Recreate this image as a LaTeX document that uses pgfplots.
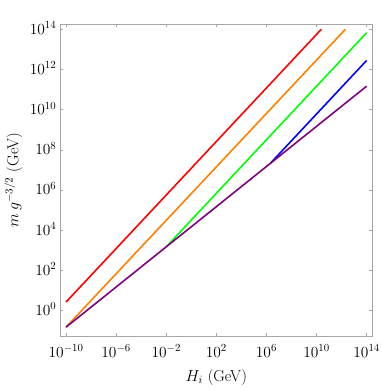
\RequirePackage{fix-cm}
\documentclass[border=0pt]{standalone}
\usepackage{pgfplots}
\pgfplotsset{compat=1.18}
\definecolor{mred}{rgb}{1,0,0}
\definecolor{morange}{rgb}{1,0.5,0}
\definecolor{mgreen}{rgb}{0,1,0}
\definecolor{mblue}{rgb}{0,0,1}
\definecolor{mpurple}{rgb}{0.5,0,0.5}
\begin{document}
\begin{tikzpicture}
\path[use as bounding box] (0bp,0bp) rectangle (382bp,390bp);
\begin{axis}[
  at={(60.3bp,54bp)}, anchor=south west,
  scale only axis, width=312bp, height=311.7bp,
  xmode=log, ymode=log,
  xmin=3.47e-11, xmax=2.82e14,
  ymin=0.0537, ymax=1.78e14,
  xtick={1e-10,1e-6,1e-2,1e2,1e6,1e10,1e14},
  ytick={1,1e2,1e4,1e6,1e8,1e10,1e12,1e14},
  minor xtick={}, minor ytick={},
  tick align=inside, major tick length=3bp,
  axis line style={gray!70, line width=0.6pt},
  every tick/.style={gray!70, line width=0.6pt},
  tick label style={font=\fontsize{15.5}{18}\selectfont},
  xticklabel style={anchor=base, yshift=-21bp},
  yticklabel style={anchor=base east, yshift=-5bp, xshift=-0.5bp},
  every axis x label/.style={at={(axis description cs:0.5,0)}, anchor=base, yshift=-45bp, font=\fontsize{16}{19}\selectfont},
  every axis y label/.style={at={(axis description cs:0,0.5)}, rotate=90, anchor=base, yshift=42bp, font=\fontsize{16}{19}\selectfont},
  xlabel={$H_i$ (GeV)},
  ylabel={$m\,g^{-3/2}$ (GeV)},
  clip=true,
]
\addplot[mred, line width=1.6pt] coordinates {(1e-10,2.63) (2.4e10,1e14)};
\addplot[morange, line width=1.6pt] coordinates {(1e-10,0.148) (2e12,1e14)};
\addplot[mgreen, line width=1.6pt] coordinates {(1e-2,1479) (1e14,6.76e13)};
\addplot[mblue, line width=1.6pt] coordinates {(2e6,2.09e7) (1e14,2.82e12)};
\addplot[mpurple, line width=1.6pt] coordinates {(1e-10,0.148) (1e14,1.48e11)};
\end{axis}
\end{tikzpicture}
\end{document}
